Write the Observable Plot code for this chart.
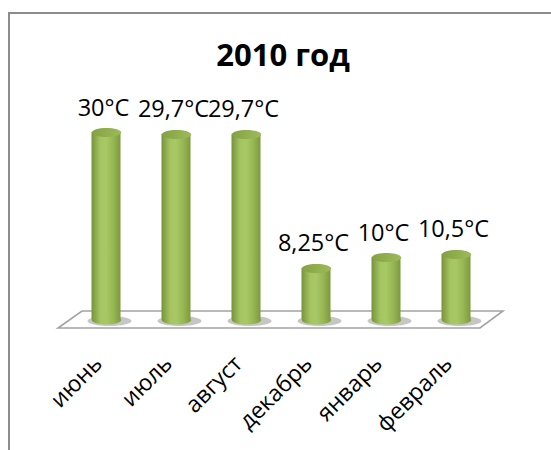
<!DOCTYPE html>
<html><head><meta charset="utf-8">
<script src="https://cdn.jsdelivr.net/npm/d3@7"></script>
<script src="https://cdn.jsdelivr.net/npm/@observablehq/plot@0.6"></script>
<style>
html,body{margin:0;padding:0;background:#fff;}
body{width:551px;height:450px;overflow:hidden;position:relative;font-family:"Open Sans",sans-serif;}
#frame{position:absolute;left:8px;top:12px;width:700px;height:600px;border-top:2px solid #8c8c8c;border-left:2px solid #8c8c8c;}
#title{position:absolute;left:0;width:566px;top:39px;text-align:center;font-weight:bold;font-size:31px;line-height:30px;color:#000;}
#chart{position:absolute;left:0;top:85px;}
</style></head><body>
<div id="frame"></div>
<div id="title">2010 год</div>
<div id="chart"></div>
<script>
const months = ["июнь", "июль", "август", "декабрь", "январь", "февраль"];
const temps = [30, 29.7, 29.7, 8.25, 10, 10.5];
const labels = ["30°C", "29,7°C", "29,7°C", "8,25°C", "10°C", "10,5°C"];
const data = months.map((m, i) => ({month: m, t: temps[i], label: labels[i]}));

function ellipseSymbol(rx, ry) {
  return {
    draw(ctx) {
      const k = 0.5523;
      ctx.moveTo(-rx, 0);
      ctx.bezierCurveTo(-rx, -ry * k, -rx * k, -ry, 0, -ry);
      ctx.bezierCurveTo(rx * k, -ry, rx, -ry * k, rx, 0);
      ctx.bezierCurveTo(rx, ry * k, rx * k, ry, 0, ry);
      ctx.bezierCurveTo(-rx * k, ry, -rx, ry * k, -rx, 0);
      ctx.closePath();
    }
  };
}

const floor = (index, scales, values, dims) => {
  const y0 = scales.y(0);
  const x0 = dims.marginLeft, x1 = dims.width - dims.marginRight;
  return d3.create("svg:path")
    .attr("d", `M${x0 + 12},${y0 - 8.5}L${x1 + 12},${y0 - 8.5}L${x1 - 11},${y0 + 8.5}L${x0 - 12},${y0 + 8.5}Z`)
    .attr("fill", "#fff").attr("stroke", "#a3a3a3").attr("stroke-width", 1.6)
    .node();
};

const svg = Plot.plot({
  width: 551,
  height: 365,
  marginLeft: 70,
  marginRight: 60,
  marginTop: 47,
  marginBottom: 130.5,
  style: {fontFamily: '"Open Sans", sans-serif', fontSize: "20px", background: "transparent", overflow: "visible", color: "#000"},
  x: {domain: months, padding: 0, label: null},
  y: {domain: [0, 30], axis: null},
  marks: [
    floor,
    Plot.dot(data, {x: "month", y: () => 0, symbol: ellipseSymbol(22, 5), r: 5, fill: "#808080", fillOpacity: 0.45, dx: 3, dy: 1, ariaLabel: "shadow"}),
    Plot.dot(data, {x: "month", y: () => 0, symbol: ellipseSymbol(14.6, 4.5), r: 5, fill: "url(#cylBody)"}),
    Plot.barY(data, {x: "month", y: "t", fill: "url(#cylBody)", insetLeft: 20.5, insetRight: 20.5}),
    Plot.dot(data, {x: "month", y: "t", symbol: ellipseSymbol(14.6, 4.5), r: 5, fill: "url(#cylTop)"}),
    Plot.text(data, {x: "month", y: "t", text: "label", dy: -17, dx: -3, lineAnchor: "bottom", fontSize: 23.5, fill: "#000"}),
    Plot.axisX({tickRotate: -45, tickSize: 0, tickPadding: 40, dx: -8, fontSize: 23, label: null, fill: "#000"})
  ]
});

const s = d3.select(svg);
const defs = s.insert("defs", ":first-child");
const g1 = defs.append("linearGradient").attr("id", "cylBody").attr("x1", 0).attr("x2", 1).attr("y1", 0).attr("y2", 0);
[[0, "#76933a"], [0.3, "#a5c562"], [0.5, "#a8c865"], [0.75, "#97b654"], [1, "#7c9a3c"]].forEach(([o, c]) => g1.append("stop").attr("offset", o).attr("stop-color", c));
const g2 = defs.append("linearGradient").attr("id", "cylTop").attr("x1", 0).attr("x2", 1).attr("y1", 0).attr("y2", 0);
[[0, "#84a243"], [0.6, "#93b150"], [1, "#9cba59"]].forEach(([o, c]) => g2.append("stop").attr("offset", o).attr("stop-color", c));
const sh = svg.querySelector('[aria-label="shadow"]');
if (sh) sh.style.filter = "blur(3px)";

document.getElementById("chart").appendChild(svg);
</script>
</body></html>
